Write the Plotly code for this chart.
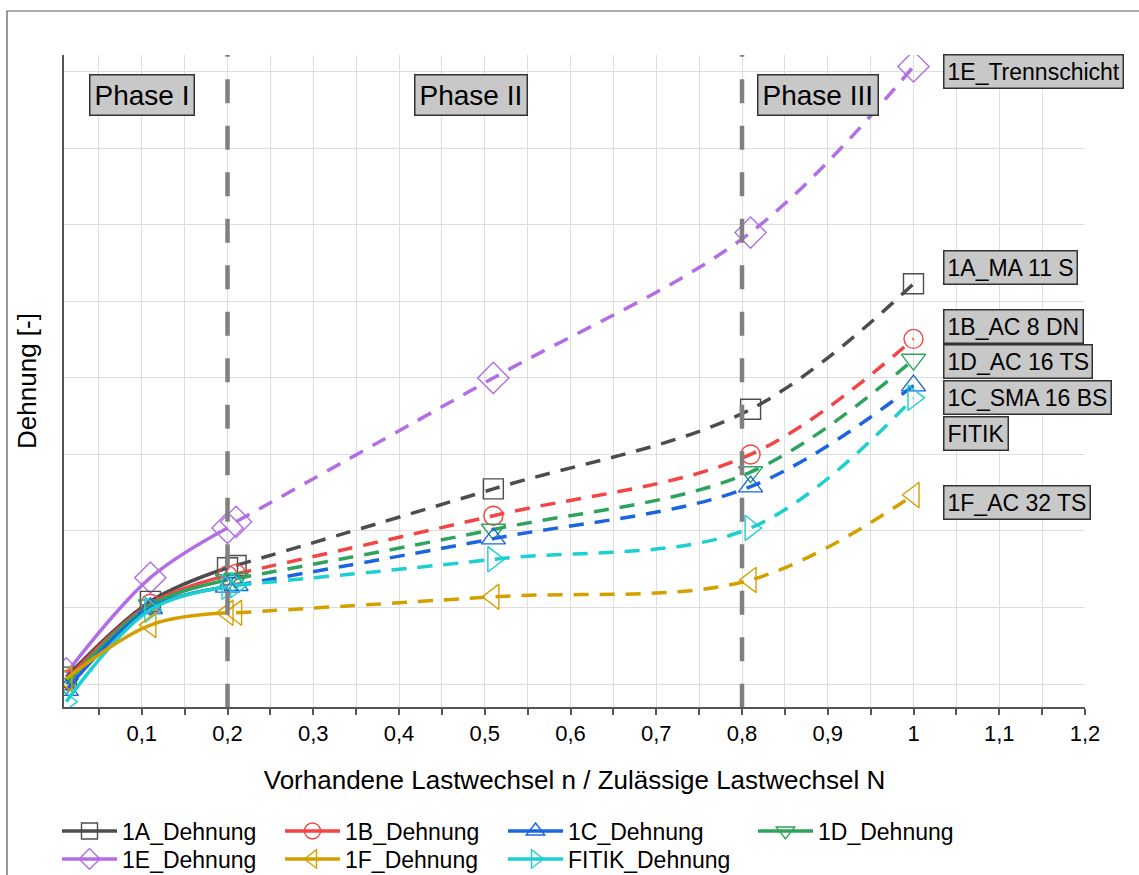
import plotly.graph_objects as go

# ---------------- data ----------------
x_phase1 = [0.012, 0.11, 0.2]
x_phase23 = [0.21, 0.51, 0.81, 1.0]

series_names = ["1A_Dehnung", "1B_Dehnung", "1C_Dehnung", "1D_Dehnung",
                "1E_Dehnung", "1F_Dehnung", "FITIK_Dehnung"]

y1A_p1 = [0.09, 1.08, 1.52]
y1A_p23 = [1.55, 2.55, 3.59, 5.23]
y1B_p1 = [0.05, 1.05, 1.42]
y1B_p23 = [1.44, 2.20, 3.00, 4.51]
y1C_p1 = [-0.08, 0.99, 1.27]
y1C_p23 = [1.29, 1.90, 2.58, 3.90]
y1D_p1 = [0.00, 1.03, 1.36]
y1D_p23 = [1.38, 2.02, 2.77, 4.24]
y1E_p1 = [0.14, 1.39, 2.04]
y1E_p23 = [2.12, 4.00, 5.90, 8.07]
y1F_p1 = [0.07, 0.77, 0.93]
y1F_p23 = [0.93, 1.14, 1.36, 2.47]
yFI_p1 = [-0.23, 0.97, 1.27]
yFI_p23 = [1.29, 1.63, 2.04, 3.74]

phase_lines_x = [0.2, 0.8]
phase_labels = ["Phase I", "Phase II", "Phase III"]
phase_label_x = [0.1, 0.4845, 0.889]

end_labels = ["1E_Trennschicht", "1A_MA 11 S", "1B_AC 8 DN", "1D_AC 16 TS",
              "1C_SMA 16 BS", "FITIK", "1F_AC 32 TS"]
end_label_y = [8.01, 5.44, 4.67, 4.21, 3.75, 3.28, 2.37]

# ---------------- styles ----------------
colors = ["#4d4d4d", "#f44444", "#1c64e0", "#2ea35e", "#b36ee6", "#d4a000", "#1ccfd0"]
symbols = ["square-open", "circle-open", "triangle-up-open", "triangle-down-open",
           "diamond-open", "triangle-left-open", "triangle-right-open"]
msizes = [20, 19, 21, 21, 24, 22, 22]
p1_data = [y1A_p1, y1B_p1, y1C_p1, y1D_p1, y1E_p1, y1F_p1, yFI_p1]
p23_data = [y1A_p23, y1B_p23, y1C_p23, y1D_p23, y1E_p23, y1F_p23, yFI_p23]

FONT = "Liberation Sans, Arial, sans-serif"
Y_RANGE = [-0.3, 8.22]

fig = go.Figure()

order = [4, 0, 1, 3, 2, 6, 5]  # draw order
for i in order:
    lg = "legend" if i == 0 else f"legend{i+1}"
    fig.add_trace(go.Scatter(
        x=x_phase23, y=p23_data[i], mode="lines+markers",
        line=dict(color=colors[i], width=3.5, dash="15px,11px", shape="spline", smoothing=1.0),
        marker=dict(symbol=symbols[i], size=msizes[i], color=colors[i],
                    line=dict(color=colors[i], width=1.4)),
        showlegend=False, name=series_names[i]))
    fig.add_trace(go.Scatter(
        x=x_phase1, y=p1_data[i], mode="lines+markers",
        line=dict(color=colors[i], width=3.5, shape="spline", smoothing=1.0),
        marker=dict(symbol=symbols[i], size=msizes[i], color=colors[i],
                    line=dict(color=colors[i], width=1.4)),
        showlegend=True, name=series_names[i], legend=lg))

# phase separator lines (drawn top-down, clipped to the plot area)
for xv in phase_lines_x:
    fig.add_shape(type="line", xref="x", yref="y", x0=xv, x1=xv,
                  y0=Y_RANGE[1] + 0.29, y1=Y_RANGE[0],
                  line=dict(color="#808080", width=4.5, dash="24px,22.5px"), layer="above")

# outer frame
fig.add_shape(type="rect", xref="paper", yref="paper",
              x0=(7 - 64) / 1021, x1=1.2, y0=-0.4, y1=1 + (55 - 11) / 652,
              line=dict(color="#555555", width=1.2), fillcolor="rgba(0,0,0,0)", layer="below")

# phase labels
for txt, xv in zip(phase_labels, phase_label_x):
    fig.add_annotation(x=xv, y=(707 - 95) / 652, xref="x", yref="paper", text=txt,
                       xanchor="center", yanchor="middle",
                       showarrow=False, font=dict(family=FONT, size=28, color="black"),
                       bgcolor="#c8c8c8", bordercolor="#333333", borderwidth=1.5, borderpad=4)

# end labels
for txt, yv in zip(end_labels, end_label_y):
    fig.add_annotation(x=1.034, y=yv, xref="x", yref="y", text=txt,
                       xanchor="left", yanchor="middle",
                       showarrow=False, font=dict(family=FONT, size=23, color="black"),
                       bgcolor="#c8c8c8", bordercolor="#333333", borderwidth=1.5, borderpad=3)

# legends (one per entry to place columns exactly)
leg_cols = [57, 280, 503, 753, 57, 280, 503]
leg_rows = [831, 831, 831, 831, 859, 859, 859]
legend_layout = {}
for i in range(7):
    key = "legend" if i == 0 else f"legend{i+1}"
    legend_layout[key] = dict(
        x=(leg_cols[i] - 64) / 1021, y=(707 - leg_rows[i]) / 652,
        xanchor="left", yanchor="middle", orientation="h",
        font=dict(family=FONT, size=23, color="black"),
        bgcolor="rgba(0,0,0,0)", itemwidth=55, borderwidth=0)

fig.update_layout(
    width=1139, height=875,
    margin=dict(l=64, r=54, t=55, b=168, autoexpand=False),
    paper_bgcolor="white", plot_bgcolor="white",
    separators=", ",
    font=dict(family=FONT, size=22, color="black"),
    **legend_layout,
)

fig.update_xaxes(
    range=[0.0093, 1.2], tick0=0, dtick=0.1,
    showline=True, linecolor="#555555", linewidth=2,
    ticks="outside", ticklen=6, tickwidth=1.5, tickcolor="#555555",
    showgrid=True, gridcolor="#dedede", gridwidth=1, zeroline=False,
    minor=dict(dtick=0.05, tick0=0, ticks="outside", ticklen=6, tickcolor="#555555",
               showgrid=True, gridcolor="#dedede", gridwidth=1),
    tickfont=dict(family=FONT, size=22, color="black"),
    title=dict(text="Vorhandene Lastwechsel n / Zulässige Lastwechsel N",
               font=dict(family=FONT, size=26, color="black"), standoff=25),
    automargin=False,
)
fig.update_yaxes(
    range=Y_RANGE, tick0=0, dtick=1,
    showline=True, linecolor="#555555", linewidth=2,
    ticks="", showticklabels=False,
    showgrid=True, gridcolor="#dedede", gridwidth=1, zeroline=False,
    title=dict(text="Dehnung [-]", font=dict(family=FONT, size=26, color="black"), standoff=18),
    automargin=False,
)

fig.write_html("out.html")
